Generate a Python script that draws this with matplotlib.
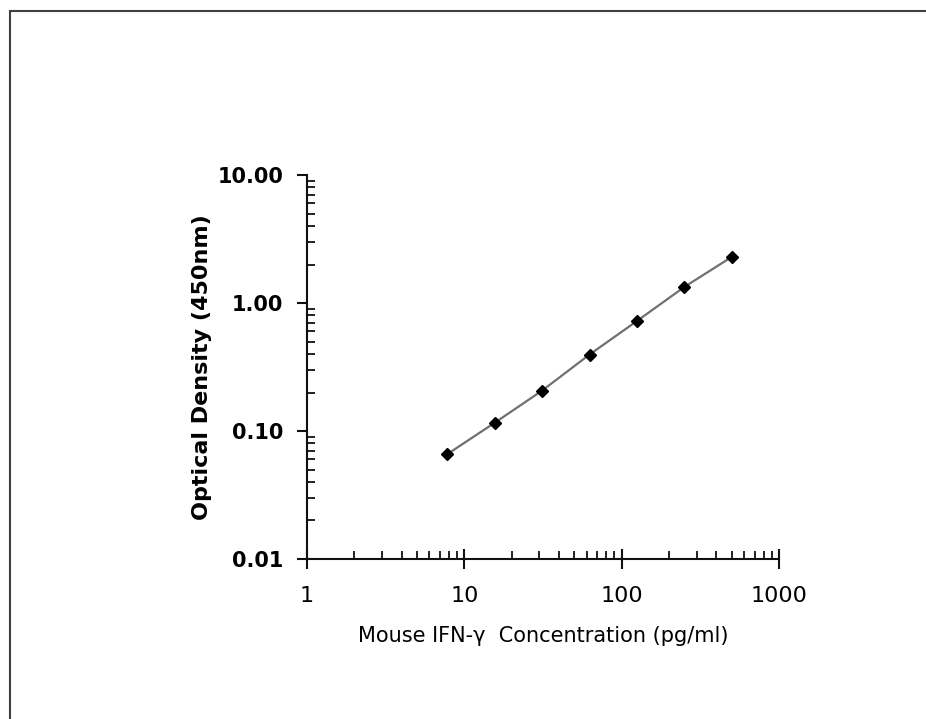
import numpy as np
import matplotlib
matplotlib.use("Agg")
import matplotlib.pyplot as plt
from matplotlib.patches import Rectangle
from matplotlib.ticker import FixedLocator, FixedFormatter, LogLocator, NullFormatter

# standard curve
conc = [7.8, 15.6, 31.25, 62.5, 125, 250, 500]
od = [0.066, 0.116, 0.207, 0.396, 0.723, 1.334, 2.29]

x_ticks = [1, 10, 100, 1000]
x_labels = ["1", "10", "100", "1000"]
y_ticks = [0.01, 0.1, 1, 10]
y_labels = ["0.01", "0.10", "1.00", "10.00"]

plt.rcParams['font.family'] = ['DejaVu Sans']

fig = plt.figure(figsize=(9.26, 7.19), dpi=100)
ax = fig.add_axes([0.3315, 0.2225, 0.5097, 0.534])

ax.plot(conc, od, color="#707070", lw=1.6, marker="D", ms=6.5,
        mfc="black", mec="black", zorder=3, clip_on=False)

ax.set_xscale("log")
ax.set_yscale("log")
ax.set_xlim(1, 1000)
ax.set_ylim(0.01, 10)

ax.xaxis.set_major_locator(FixedLocator(x_ticks))
ax.xaxis.set_major_formatter(FixedFormatter(x_labels))
ax.yaxis.set_major_locator(FixedLocator(y_ticks))
ax.yaxis.set_major_formatter(FixedFormatter(y_labels))
ax.xaxis.set_minor_locator(LogLocator(base=10, subs=np.arange(2, 10)))
ax.yaxis.set_minor_locator(LogLocator(base=10, subs=np.arange(2, 10)))
ax.xaxis.set_minor_formatter(NullFormatter())
ax.yaxis.set_minor_formatter(NullFormatter())

for s in ["top", "right"]:
    ax.spines[s].set_visible(False)
for s in ["left", "bottom"]:
    ax.spines[s].set_linewidth(1.5)
    ax.spines[s].set_color("#111111")

ax.tick_params(axis="x", which="major", direction="inout", length=15, width=1.5,
               pad=12, labelsize=16, color="#111111")
ax.tick_params(axis="y", which="major", direction="out", length=7, width=1.5,
               pad=10, labelsize=15, color="#111111")
ax.tick_params(which="minor", direction="in", length=6, width=1.3, color="#111111")
for t in ax.get_yticklabels():
    t.set_fontweight("bold")

ax.set_xlabel("Mouse IFN-\u03b3  Concentration (pg/ml)", fontsize=15, labelpad=14)
ax.set_ylabel("Optical Density (450nm)", fontsize=16, fontweight="bold", labelpad=4)

# outer frame of the picture
fig.patches.append(Rectangle((0.0103, -0.2), 1.5, 0.9847 + 0.2, transform=fig.transFigure,
                             fill=False, edgecolor="#404040", lw=1.5))

fig.savefig("out.png", dpi=100)
